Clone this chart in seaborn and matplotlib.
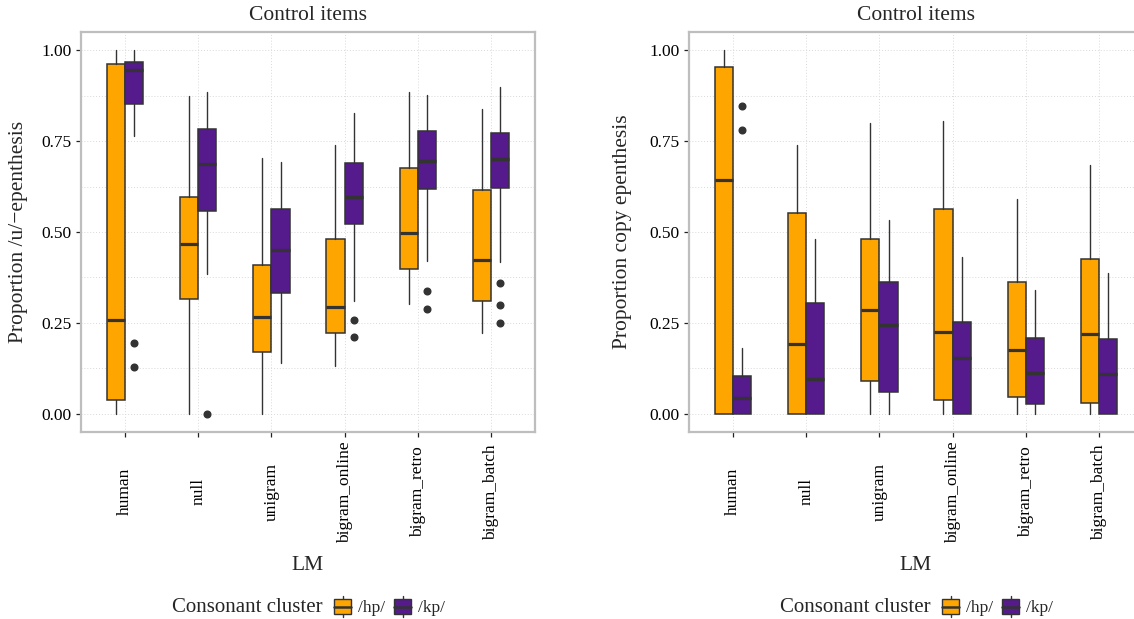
import matplotlib
matplotlib.use("Agg")
import matplotlib.pyplot as plt
import seaborn as sns
import numpy as np
from matplotlib.ticker import FixedLocator
from matplotlib.legend_handler import HandlerBase
from matplotlib.patches import Rectangle, Patch
from matplotlib.lines import Line2D

sns.set_theme(style="white")
plt.rcParams['font.family'] = ['Liberation Serif', 'DejaVu Serif']

models = ["human", "null", "unigram", "bigram_online", "bigram_retro", "bigram_batch"]
clusters = ["/hp/", "/kp/"]

# left panel: proportion /u/-epenthesis
u_hp_whislo = [0.0, 0.0, 0.0, 0.132, 0.301, 0.223]
u_hp_q1 = [0.037, 0.316, 0.171, 0.221, 0.398, 0.309]
u_hp_med = [0.259, 0.466, 0.266, 0.294, 0.497, 0.422]
u_hp_q3 = [0.963, 0.597, 0.409, 0.482, 0.676, 0.616]
u_hp_whishi = [1.0, 0.874, 0.703, 0.740, 0.885, 0.837]
u_hp_fliers = [[], [], [], [], [], []]

u_kp_whislo = [0.763, 0.385, 0.139, 0.311, 0.420, 0.417]
u_kp_q1 = [0.853, 0.559, 0.332, 0.521, 0.618, 0.622]
u_kp_med = [0.945, 0.688, 0.451, 0.596, 0.695, 0.701]
u_kp_q3 = [0.968, 0.784, 0.564, 0.689, 0.778, 0.771]
u_kp_whishi = [1.0, 0.885, 0.693, 0.826, 0.876, 0.899]
u_kp_fliers = [[0.195, 0.128], [0.0], [], [0.259, 0.211], [0.337, 0.289], [0.360, 0.300, 0.249]]

# right panel: proportion copy epenthesis
c_hp_whislo = [0.0, 0.0, 0.0, 0.0, 0.0, 0.0]
c_hp_q1 = [0.0, 0.0, 0.089, 0.039, 0.047, 0.029]
c_hp_med = [0.644, 0.191, 0.286, 0.226, 0.175, 0.219]
c_hp_q3 = [0.953, 0.552, 0.482, 0.563, 0.363, 0.425]
c_hp_whishi = [1.0, 0.739, 0.800, 0.805, 0.591, 0.685]
c_hp_fliers = [[], [], [], [], [], []]

c_kp_whislo = [0.0, 0.0, 0.0, 0.0, 0.0, 0.0]
c_kp_q1 = [0.0, 0.0, 0.060, 0.0, 0.028, 0.0]
c_kp_med = [0.044, 0.096, 0.243, 0.154, 0.112, 0.110]
c_kp_q3 = [0.104, 0.306, 0.362, 0.252, 0.209, 0.206]
c_kp_whishi = [0.181, 0.482, 0.532, 0.432, 0.340, 0.387]
c_kp_fliers = [[0.846, 0.781], [], [], [], [], []]

ORANGE = "#FFA500"
PURPLE = "#551A8B"
EDGE = "#333333"
W, H = 1134, 619


def make_stats(lo, q1, med, q3, hi, fl):
    return [dict(whislo=a, q1=b, med=c, q3=d, whishi=e, fliers=f)
            for a, b, c, d, e, f in zip(lo, q1, med, q3, hi, fl)]


def draw_box(ax, stats, pos, color):
    ax.bxp(stats, positions=pos, widths=0.25, patch_artist=True, showcaps=False,
           manage_ticks=False,
           boxprops=dict(facecolor=color, edgecolor=EDGE, linewidth=1.1),
           medianprops=dict(color=EDGE, linewidth=2.3, solid_capstyle='butt'),
           whiskerprops=dict(color=EDGE, linewidth=1.0),
           flierprops=dict(marker='o', markerfacecolor=EDGE, markeredgecolor=EDGE,
                           markersize=4.8, linestyle='none'))


def style_panel(ax, ylabel, ylab_x):
    x = np.arange(len(models))
    ax.set_xlim(-0.6, len(models) - 0.4)
    ax.set_ylim(-0.05, 1.05)
    ax.set_xticks(x)
    ax.set_xticklabels(models, rotation=90, va='center', ha='center', fontsize=12.5)
    ax.set_yticks([0, 0.25, 0.5, 0.75, 1.0])
    ax.set_yticklabels(["0.00", "0.25", "0.50", "0.75", "1.00"], fontsize=12.5)
    ax.yaxis.set_minor_locator(FixedLocator([0.125, 0.375, 0.625, 0.875]))
    ax.tick_params(axis='both', which='major', length=3.5, width=0.9, color='#222222',
                   labelcolor='black', direction='out')
    ax.tick_params(axis='x', pad=39.5)
    ax.tick_params(axis='y', pad=3.5, left=True)
    ax.tick_params(axis='x', bottom=True)
    ax.tick_params(which='minor', length=0)
    ax.grid(which='major', color='#D9D9D9', linestyle=(0, (1, 2)), linewidth=0.7)
    ax.grid(which='minor', axis='y', color='#D9D9D9', linestyle=(0, (1, 2)), linewidth=0.7)
    ax.set_axisbelow(True)
    for sp in ax.spines.values():
        sp.set_color('#BEBEBE')
        sp.set_linewidth(1.6)
    ax.set_ylabel(ylabel, fontsize=15.5, va='center')
    ax.yaxis.set_label_coords(ylab_x, 0.5)
    ax.set_xlabel("LM", fontsize=15.5, va='center')
    ax.xaxis.set_label_coords(0.5, -133 / 400)
    ax.text(0.5, 1 + 16 / 400, "Control items", transform=ax.transAxes,
            ha='center', va='center', fontsize=15.5)


class BoxKey(HandlerBase):
    # small boxplot glyph for the legend keys
    def create_artists(self, legend, orig_handle, xdescent, ydescent, width, height,
                       fontsize, trans):
        x0, y0 = -xdescent, -ydescent
        cx = x0 + width / 2
        fc = orig_handle.get_facecolor()
        whisk = Line2D([cx, cx], [y0 - 0.1 * height, y0 + 1.1 * height], color=EDGE,
                       lw=1.0, transform=trans)
        box = Rectangle((x0, y0 + 0.1 * height), width, 0.8 * height,
                        facecolor=fc, edgecolor=EDGE, lw=1.0, transform=trans)
        med = Line2D([x0, x0 + width], [y0 + height / 2] * 2,
                     color=EDGE, lw=1.8, transform=trans)
        return [whisk, box, med]


fig = plt.figure(figsize=(W / 100, H / 100), dpi=100)
ax1 = fig.add_axes([81 / W, 1 - 432 / H, 454 / W, 400 / H])
ax2 = fig.add_axes([689 / W, 1 - 432 / H, 454 / W, 400 / H])

pos = np.arange(len(models))
draw_box(ax1, make_stats(u_hp_whislo, u_hp_q1, u_hp_med, u_hp_q3, u_hp_whishi, u_hp_fliers), pos - 0.125, ORANGE)
draw_box(ax1, make_stats(u_kp_whislo, u_kp_q1, u_kp_med, u_kp_q3, u_kp_whishi, u_kp_fliers), pos + 0.125, PURPLE)
draw_box(ax2, make_stats(c_hp_whislo, c_hp_q1, c_hp_med, c_hp_q3, c_hp_whishi, c_hp_fliers), pos - 0.125, ORANGE)
draw_box(ax2, make_stats(c_kp_whislo, c_kp_q1, c_kp_med, c_kp_q3, c_kp_whishi, c_kp_fliers), pos + 0.125, PURPLE)

style_panel(ax1, "Proportion /u/\u2212epenthesis", (18.5 - 81) / 454)
style_panel(ax2, "Proportion copy epenthesis", (622 - 689) / 454)
ax2.spines['right'].set_visible(False)  # panel runs past the figure edge

handles = [Patch(facecolor=ORANGE), Patch(facecolor=PURPLE)]
for offset in [0, 608]:
    fig.text((172 + offset) / W, 1 - 608 / H, "Consonant cluster", ha='left', va='center',
             fontsize=15)
    leg = fig.legend(handles, clusters, loc='center left',
                     bbox_to_anchor=((334 + offset) / W, 1 - 607 / H), ncol=2,
                     frameon=False, fontsize=12.5, borderpad=0, borderaxespad=0,
                     handlelength=1.0, handleheight=1.2, handletextpad=0.4,
                     columnspacing=0.5, handler_map={Patch: BoxKey()})

fig.savefig("out.png", dpi=100)
